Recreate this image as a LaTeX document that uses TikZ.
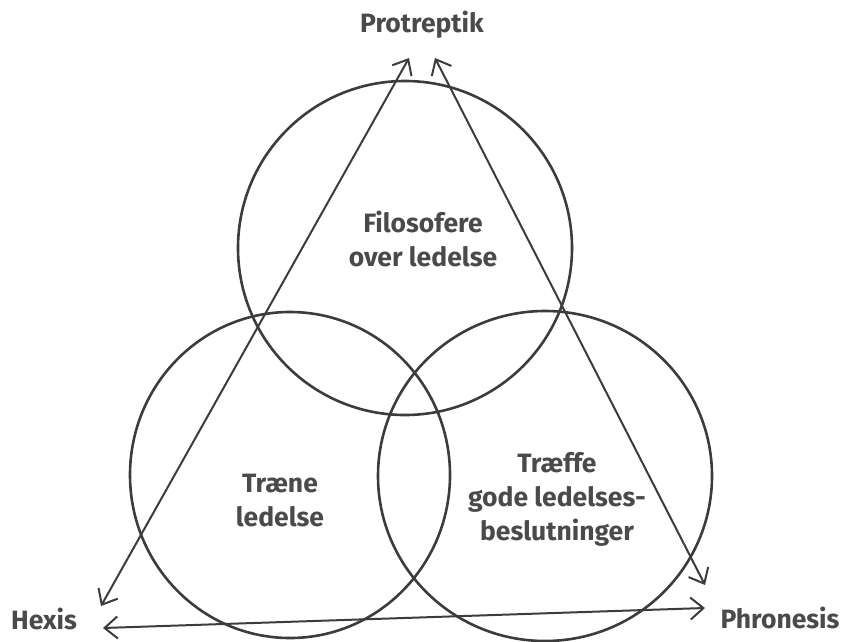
\documentclass[tikz,border=0pt]{standalone}
\usepackage{fontspec}
\setmainfont{Fira Sans}
\usetikzlibrary{arrows.meta,shapes.geometric}
\definecolor{ink}{HTML}{3C3C3C}
\definecolor{txt}{HTML}{4A4A4A}
\tikzset{
  ring/.style={draw=ink, line width=2.6pt, ellipse, inner sep=0pt},
  conn/.style={draw=ink, line width=2pt, {Straight Barb[length=13pt,width=22pt,line width=2pt]}-{Straight Barb[length=13pt,width=22pt,line width=2pt]}},
  lbl/.style={text=txt, font=\fontsize{26.5}{34}\selectfont\bfseries, align=center, inner sep=0pt},
}
\begin{document}
\begin{tikzpicture}[x=1pt,y=-1pt]
\useasboundingbox (0,0) rectangle (848,642);
\node[ring, minimum width=334pt, minimum height=334pt] (top) at (405,248) {};
\node[ring, minimum width=320pt, minimum height=326pt] (left) at (290,475) {};
\node[ring, minimum width=334pt, minimum height=330pt] (right) at (545,476) {};
\node[lbl] (prot) at (422,25) {Protreptik};
\node[lbl] (hexis) at (44,619) {Hexis};
\node[lbl] (phron) at (780,618) {Phronesis};
\node[lbl] (filo) at (423,239) {Filosofere\\over ledelse};
\node[lbl] (traene) at (280,501) {Træne\\ledelse};
\node[lbl] (traeffe) at (557,499) {Træffe\\gode ledelses-\\beslutninger};
\coordinate (hx1) at (101,606);
\coordinate (pt1) at (409,58);
\coordinate (pt2) at (435,58);
\coordinate (ph1) at (705,585);
\coordinate (hx2) at (103,628);
\coordinate (ph2) at (705,608);
\draw[conn] (hx1) -- (pt1);
\draw[conn] (pt2) -- (ph1);
\draw[conn] (hx2) -- (ph2);
\end{tikzpicture}
\end{document}
